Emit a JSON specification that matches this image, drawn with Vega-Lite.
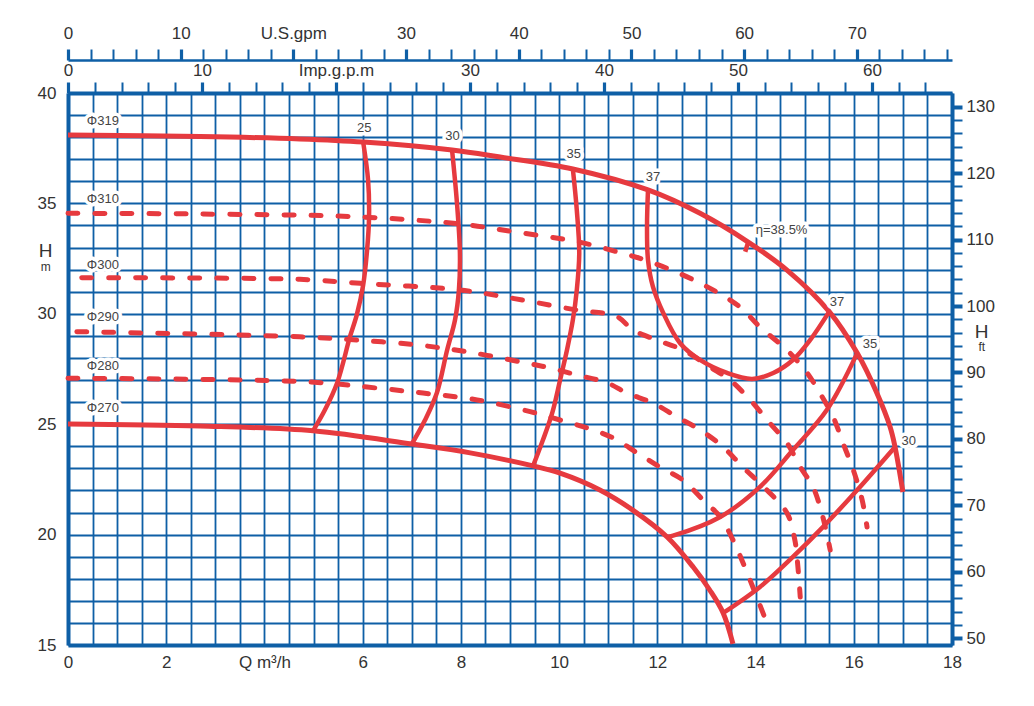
{
  "$schema": "https://vega.github.io/schema/vega-lite/v6.json",
  "width": 884,
  "height": 552,
  "autosize": "none",
  "padding": {"left": 68, "top": 93, "right": 82, "bottom": 61},
  "background": "white",
  "config": {
    "view": {"stroke": null},
    "font": "Liberation Sans",
    "axis": {
      "domainColor": "#0e5fa6",
      "tickColor": "#0e5fa6",
      "gridColor": "#0e5fa6",
      "labelColor": "#333333",
      "labelFont": "Liberation Sans",
      "labelFontSize": 17,
      "labelFlush": false,
      "labelOverlap": false,
      "title": null
    }
  },
  "datasets": {
    "solidHead": [
      {"c": "319", "Q": 0, "H": 38.10}, {"c": "319", "Q": 2.69, "H": 38.03}, {"c": "319", "Q": 4.72, "H": 37.92},
      {"c": "319", "Q": 6.01, "H": 37.78}, {"c": "319", "Q": 7.82, "H": 37.42}, {"c": "319", "Q": 8.80, "H": 37.10},
      {"c": "319", "Q": 10.28, "H": 36.56}, {"c": "319", "Q": 11.81, "H": 35.61}, {"c": "319", "Q": 12.87, "H": 34.55},
      {"c": "319", "Q": 13.85, "H": 33.25}, {"c": "319", "Q": 14.64, "H": 31.98}, {"c": "319", "Q": 15.50, "H": 30.10},
      {"c": "319", "Q": 16.07, "H": 28.22}, {"c": "319", "Q": 16.47, "H": 26.41}, {"c": "319", "Q": 16.74, "H": 24.87},
      {"c": "319", "Q": 16.84, "H": 23.97}, {"c": "319", "Q": 17.00, "H": 21.93},
      {"c": "270", "Q": 0, "H": 25.01}, {"c": "270", "Q": 2.69, "H": 24.92}, {"c": "270", "Q": 4.99, "H": 24.70},
      {"c": "270", "Q": 7.00, "H": 24.10}, {"c": "270", "Q": 8.19, "H": 23.70}, {"c": "270", "Q": 9.47, "H": 23.11},
      {"c": "270", "Q": 10.02, "H": 22.78}, {"c": "270", "Q": 10.83, "H": 22.02}, {"c": "270", "Q": 11.50, "H": 21.11},
      {"c": "270", "Q": 12.20, "H": 19.89}, {"c": "270", "Q": 12.73, "H": 18.53}, {"c": "270", "Q": 13.07, "H": 17.48},
      {"c": "270", "Q": 13.34, "H": 16.45}, {"c": "270", "Q": 13.54, "H": 15.05}
    ],
    "dashedHead": [
      {"c": "310", "Q": 0, "H": 34.55}, {"c": "310", "Q": 2.69, "H": 34.52}, {"c": "310", "Q": 5.80, "H": 34.40},
      {"c": "310", "Q": 7.98, "H": 34.07}, {"c": "310", "Q": 9.06, "H": 33.72}, {"c": "310", "Q": 10.36, "H": 33.27},
      {"c": "310", "Q": 11.18, "H": 32.81}, {"c": "310", "Q": 11.85, "H": 32.36}, {"c": "310", "Q": 12.87, "H": 31.39},
      {"c": "310", "Q": 13.68, "H": 30.31}, {"c": "310", "Q": 14.09, "H": 29.40}, {"c": "310", "Q": 14.64, "H": 28.36},
      {"c": "310", "Q": 15.05, "H": 27.32}, {"c": "310", "Q": 15.31, "H": 26.41}, {"c": "310", "Q": 15.58, "H": 25.33},
      {"c": "310", "Q": 15.78, "H": 24.15}, {"c": "310", "Q": 15.99, "H": 22.93}, {"c": "310", "Q": 16.17, "H": 21.57},
      {"c": "310", "Q": 16.27, "H": 20.34},
      {"c": "300", "Q": 0.28, "H": 31.63}, {"c": "300", "Q": 4.72, "H": 31.56}, {"c": "300", "Q": 5.95, "H": 31.38},
      {"c": "300", "Q": 7.98, "H": 31.08}, {"c": "300", "Q": 9.06, "H": 30.70}, {"c": "300", "Q": 10.36, "H": 30.17},
      {"c": "300", "Q": 11.18, "H": 29.87}, {"c": "300", "Q": 11.50, "H": 29.27}, {"c": "300", "Q": 11.99, "H": 28.81},
      {"c": "300", "Q": 12.52, "H": 28.36}, {"c": "300", "Q": 13.07, "H": 27.59}, {"c": "300", "Q": 13.48, "H": 27.00},
      {"c": "300", "Q": 13.89, "H": 26.10}, {"c": "300", "Q": 14.29, "H": 25.05}, {"c": "300", "Q": 14.64, "H": 24.15},
      {"c": "300", "Q": 14.91, "H": 23.06}, {"c": "300", "Q": 15.17, "H": 22.16}, {"c": "300", "Q": 15.37, "H": 20.80},
      {"c": "300", "Q": 15.52, "H": 19.30},
      {"c": "290", "Q": 0.18, "H": 29.19}, {"c": "290", "Q": 4.72, "H": 28.96}, {"c": "290", "Q": 5.88, "H": 28.81},
      {"c": "290", "Q": 7.11, "H": 28.59}, {"c": "290", "Q": 8.12, "H": 28.28}, {"c": "290", "Q": 9.20, "H": 27.83},
      {"c": "290", "Q": 9.81, "H": 27.55}, {"c": "290", "Q": 10.36, "H": 27.23}, {"c": "290", "Q": 10.98, "H": 26.87},
      {"c": "290", "Q": 11.38, "H": 26.41}, {"c": "290", "Q": 11.91, "H": 25.96}, {"c": "290", "Q": 12.40, "H": 25.33},
      {"c": "290", "Q": 12.87, "H": 24.74}, {"c": "290", "Q": 13.34, "H": 23.97}, {"c": "290", "Q": 13.74, "H": 23.06},
      {"c": "290", "Q": 14.23, "H": 22.02}, {"c": "290", "Q": 14.64, "H": 20.98}, {"c": "290", "Q": 14.80, "H": 19.76},
      {"c": "290", "Q": 14.86, "H": 18.60}, {"c": "290", "Q": 14.91, "H": 17.17},
      {"c": "280", "Q": 0, "H": 27.08}, {"c": "280", "Q": 4.87, "H": 26.92}, {"c": "280", "Q": 6.09, "H": 26.68},
      {"c": "280", "Q": 7.23, "H": 26.41}, {"c": "280", "Q": 8.33, "H": 26.10}, {"c": "280", "Q": 9.41, "H": 25.57},
      {"c": "280", "Q": 10.02, "H": 25.19}, {"c": "280", "Q": 10.57, "H": 24.83}, {"c": "280", "Q": 11.10, "H": 24.38},
      {"c": "280", "Q": 11.59, "H": 23.70}, {"c": "280", "Q": 12.05, "H": 23.06}, {"c": "280", "Q": 12.52, "H": 22.47},
      {"c": "280", "Q": 12.93, "H": 21.57}, {"c": "280", "Q": 13.28, "H": 20.80}, {"c": "280", "Q": 13.54, "H": 19.76},
      {"c": "280", "Q": 13.83, "H": 18.26}, {"c": "280", "Q": 14.23, "H": 16.00}
    ],
    "efficiency": [
      {"c": "25", "Q": 6.01, "H": 37.78}, {"c": "25", "Q": 6.11, "H": 36.06}, {"c": "25", "Q": 6.13, "H": 34.38},
      {"c": "25", "Q": 6.09, "H": 32.89}, {"c": "25", "Q": 6.01, "H": 31.30}, {"c": "25", "Q": 5.88, "H": 29.95},
      {"c": "25", "Q": 5.74, "H": 28.95}, {"c": "25", "Q": 5.48, "H": 26.87}, {"c": "25", "Q": 5.23, "H": 25.64},
      {"c": "25", "Q": 4.99, "H": 24.70},
      {"c": "30", "Q": 7.82, "H": 37.42}, {"c": "30", "Q": 7.92, "H": 35.02}, {"c": "30", "Q": 7.98, "H": 32.75},
      {"c": "30", "Q": 7.96, "H": 31.08}, {"c": "30", "Q": 7.88, "H": 29.72}, {"c": "30", "Q": 7.72, "H": 28.36},
      {"c": "30", "Q": 7.51, "H": 26.41}, {"c": "30", "Q": 7.27, "H": 25.19}, {"c": "30", "Q": 7.00, "H": 24.10},
      {"c": "35", "Q": 10.28, "H": 36.56}, {"c": "35", "Q": 10.36, "H": 34.70}, {"c": "35", "Q": 10.41, "H": 32.75},
      {"c": "35", "Q": 10.36, "H": 31.08}, {"c": "35", "Q": 10.28, "H": 29.72}, {"c": "35", "Q": 10.16, "H": 28.36},
      {"c": "35", "Q": 10.02, "H": 27.00}, {"c": "35", "Q": 9.86, "H": 25.51}, {"c": "35", "Q": 9.67, "H": 24.28},
      {"c": "35", "Q": 9.47, "H": 23.11},
      {"c": "37", "Q": 11.81, "H": 35.61}, {"c": "37", "Q": 11.79, "H": 33.95}, {"c": "37", "Q": 11.81, "H": 32.44},
      {"c": "37", "Q": 11.91, "H": 31.23}, {"c": "37", "Q": 12.12, "H": 30.04}, {"c": "37", "Q": 12.46, "H": 28.68},
      {"c": "37", "Q": 12.87, "H": 27.91}, {"c": "37", "Q": 13.42, "H": 27.32}, {"c": "37", "Q": 13.93, "H": 27.05},
      {"c": "37", "Q": 14.36, "H": 27.32}, {"c": "37", "Q": 14.76, "H": 27.91}, {"c": "37", "Q": 15.11, "H": 28.81},
      {"c": "37", "Q": 15.50, "H": 30.10},
      {"c": "35b", "Q": 16.07, "H": 28.22}, {"c": "35b", "Q": 15.45, "H": 25.64}, {"c": "35b", "Q": 14.76, "H": 23.83},
      {"c": "35b", "Q": 14.09, "H": 22.16}, {"c": "35b", "Q": 13.28, "H": 20.80}, {"c": "35b", "Q": 12.32, "H": 19.95},
      {"c": "35b", "Q": 12.20, "H": 19.89},
      {"c": "30b", "Q": 16.84, "H": 23.97}, {"c": "30b", "Q": 16.07, "H": 22.02}, {"c": "30b", "Q": 15.37, "H": 20.34},
      {"c": "30b", "Q": 14.76, "H": 18.99}, {"c": "30b", "Q": 14.09, "H": 17.63}, {"c": "30b", "Q": 13.34, "H": 16.45},
      {"c": "38.5", "Q": 13.85, "H": 33.25}, {"c": "38.5", "Q": 13.79, "H": 32.81}
    ],
    "curveLabels": [
      {"Q": 0.71, "H": 38.75, "t": "Φ319"}, {"Q": 0.71, "H": 35.19, "t": "Φ310"},
      {"Q": 0.71, "H": 32.21, "t": "Φ300"}, {"Q": 0.71, "H": 29.87, "t": "Φ290"},
      {"Q": 0.71, "H": 27.64, "t": "Φ280"}, {"Q": 0.71, "H": 25.72, "t": "Φ270"},
      {"Q": 6.03, "H": 38.40, "t": "25"}, {"Q": 7.83, "H": 38.05, "t": "30"},
      {"Q": 10.30, "H": 37.24, "t": "35"}, {"Q": 11.91, "H": 36.21, "t": "37"},
      {"Q": 14.53, "H": 33.80, "t": "η=38.5%"}, {"Q": 15.66, "H": 30.55, "t": "37"},
      {"Q": 16.33, "H": 28.63, "t": "35"}, {"Q": 17.12, "H": 24.25, "t": "30"}
    ],
    "axisNames": [
      {"Q": -0.454, "H": 32.86, "t": "H"}, {"Q": 18.605, "H": 29.19, "t": "H"}
    ],
    "axisUnits": [
      {"Q": -0.454, "H": 32.11, "t": "m"}, {"Q": 18.605, "H": 28.51, "t": "ft"}
    ]
  },
  "resolve": {"scale": {"x": "independent", "y": "independent"}},
  "layer": [
    {
      "encoding": {
        "x": {
          "field": "Q", "type": "quantitative",
          "scale": {"domain": [0, 18], "nice": false, "zero": false},
          "axis": {
            "orient": "bottom",
            "values": [0,0.5,1,1.5,2,2.5,3,3.5,4,4.5,5,5.5,6,6.5,7,7.5,8,8.5,9,9.5,10,10.5,11,11.5,12,12.5,13,13.5,14,14.5,15,15.5,16,16.5,17,17.5,18],
            "grid": true, "gridWidth": 1.8,
            "ticks": false, "tickSize": 0,
            "domainWidth": 4,
            "labelPadding": 9,
            "labelExpr": "datum.value === 4 ? 'Q m³/h' : (datum.value % 2 === 0 ? format(datum.value, 'd') : '')"
          }
        },
        "y": {
          "field": "H", "type": "quantitative",
          "scale": {"domain": [15, 40], "nice": false, "zero": false},
          "axis": {
            "orient": "left",
            "values": [15,16,17,18,19,20,21,22,23,24,25,26,27,28,29,30,31,32,33,34,35,36,37,38,39,40],
            "grid": true, "gridWidth": 1.8,
            "ticks": false, "tickSize": 0,
            "domainWidth": 4,
            "labelPadding": 12,
            "labelExpr": "datum.value % 5 === 0 ? datum.label : ''"
          }
        }
      },
      "layer": [
        {
          "data": {"name": "dashedHead"},
          "mark": {"type": "line", "color": "#e63a3f", "strokeWidth": 5, "strokeDash": [10, 17], "strokeCap": "round", "interpolate": "catmull-rom"},
          "encoding": {"detail": {"field": "c"}, "order": {"value": null}}
        },
        {
          "data": {"name": "efficiency"},
          "mark": {"type": "line", "color": "#e63a3f", "strokeWidth": 4.5, "interpolate": "catmull-rom"},
          "encoding": {"detail": {"field": "c"}, "order": {"value": null}}
        },
        {
          "data": {"name": "solidHead"},
          "mark": {"type": "line", "color": "#e63a3f", "strokeWidth": 5, "interpolate": "catmull-rom"},
          "encoding": {"detail": {"field": "c"}, "order": {"value": null}}
        },
        {
          "data": {"name": "curveLabels"},
          "mark": {"type": "text", "fontSize": 13, "color": "white", "stroke": "white", "strokeWidth": 7, "strokeJoin": "round"},
          "encoding": {"text": {"field": "t"}}
        },
        {
          "data": {"name": "curveLabels"},
          "mark": {"type": "text", "fontSize": 13, "color": "#444444"},
          "encoding": {"text": {"field": "t"}}
        },
        {
          "data": {"name": "axisNames"},
          "mark": {"type": "text", "fontSize": 19, "color": "#333333"},
          "encoding": {"text": {"field": "t"}}
        },
        {
          "data": {"name": "axisUnits"},
          "mark": {"type": "text", "fontSize": 12, "color": "#333333"},
          "encoding": {"text": {"field": "t"}}
        }
      ]
    },
    {
      "data": {"values": [{"imp": 0}]},
      "mark": {"type": "point", "opacity": 0},
      "encoding": {
        "x": {
          "field": "imp", "type": "quantitative",
          "scale": {"domain": [0, 65.98], "nice": false, "zero": false},
          "axis": {
            "orient": "top",
            "values": [0,2,4,6,8,10,12,14,16,18,20,22,24,26,28,30,32,34,36,38,40,42,44,46,48,50,52,54,56,58,60,62,64,66],
            "grid": false,
            "tickSize": 11,
            "tickWidth": {"condition": {"test": "datum.value % 10 === 0", "value": 3.2}, "value": 2},
            "domainWidth": 4,
            "labelPadding": 3,
            "labelExpr": "datum.value === 20 ? 'Imp.g.p.m' : (datum.value % 10 === 0 ? datum.label : '')"
          }
        }
      }
    },
    {
      "data": {"values": [{"usgpm": 0}]},
      "mark": {"type": "point", "opacity": 0},
      "encoding": {
        "x": {
          "field": "usgpm", "type": "quantitative",
          "scale": {"domain": [0, 78.45], "nice": false, "zero": false},
          "axis": {
            "orient": "top",
            "offset": 33,
            "values": [0,2,4,6,8,10,12,14,16,18,20,22,24,26,28,30,32,34,36,38,40,42,44,46,48,50,52,54,56,58,60,62,64,66,68,70,72,74,76,78],
            "grid": false,
            "tickSize": 11,
            "tickWidth": {"condition": {"test": "datum.value % 10 === 0", "value": 3.2}, "value": 2},
            "domainWidth": 2.5,
            "labelPadding": 7,
            "labelExpr": "datum.value === 20 ? 'U.S.gpm' : (datum.value % 10 === 0 ? datum.label : '')"
          }
        }
      }
    },
    {
      "data": {"values": [{"ft": 50}]},
      "mark": {"type": "point", "opacity": 0},
      "encoding": {
        "y": {
          "field": "ft", "type": "quantitative",
          "scale": {"domain": [48.99, 132.06], "nice": false, "zero": false},
          "axis": {
            "orient": "right",
            "values": [50,52,54,56,58,60,62,64,66,68,70,72,74,76,78,80,82,84,86,88,90,92,94,96,98,100,102,104,106,108,110,112,114,116,118,120,122,124,126,128,130],
            "grid": false,
            "tickSize": 10,
            "tickWidth": {"condition": {"test": "datum.value % 10 === 0", "value": 4}, "value": 2},
            "domainWidth": 4,
            "labelPadding": 4,
            "labelExpr": "datum.value % 10 === 0 ? datum.label : ''"
          }
        }
      }
    }
  ]
}
